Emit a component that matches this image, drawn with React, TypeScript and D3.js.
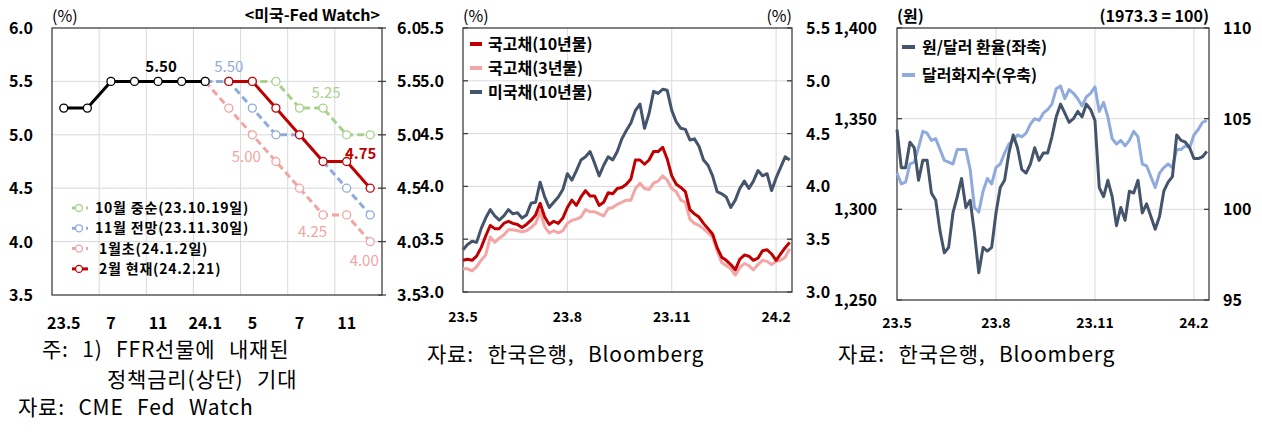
import React from 'react';
import * as d3 from 'd3';

const FONT = '"Noto Sans CJK KR", "Noto Sans", sans-serif';

// ---------- Panel 1: Fed Watch ----------
const fomcMonths = ["23.5", "23.6", "23.7", "23.9", "23.11", "23.12", "24.1", "24.3", "24.5", "24.6", "24.7", "24.9", "24.11", "24.12"];
const fomcTickLabels = ["23.5", "", "7", "", "11", "", "24.1", "", "5", "", "7", "", "11", ""];
const fedTicks = [3.5, 4.0, 4.5, 5.0, 5.5, 6.0];
const actualRate = [5.25, 5.25, 5.5, 5.5, 5.5, 5.5, 5.5, null, null, null, null, null, null, null];
const octExpect = [null, null, null, null, null, null, 5.5, 5.5, 5.5, 5.5, 5.25, 5.25, 5.0, 5.0];
const novExpect = [null, null, null, null, null, null, 5.5, 5.5, 5.25, 5.0, 5.0, 4.75, 4.5, 4.25];
const janExpect = [null, null, null, null, null, null, 5.5, 5.25, 5.0, 4.75, 4.5, 4.25, 4.25, 4.0];
const febExpect = [null, null, null, null, null, null, null, 5.5, 5.5, 5.25, 5.0, 4.75, 4.75, 4.5];
const fedLegend = ["10월 중순(23.10.19일)", "11월 전망(23.11.30일)", " 1월초(24.1.2일)", " 2월 현재(24.2.21)"];

// ---------- Panel 2: bond yields (every 4 days from 2023-05-01) ----------
const seriesStart = "2023-05-01";
const seriesEnd = "2024-02-15";
const stepDays = 4;
const kr10y = [3.30, 3.31, 3.30, 3.34, 3.42, 3.53, 3.63, 3.60, 3.60, 3.65, 3.67, 3.65, 3.64, 3.61, 3.64, 3.68, 3.73, 3.84, 3.71, 3.64, 3.67, 3.65, 3.70, 3.80, 3.87, 3.82, 3.90, 3.96, 3.91, 3.91, 3.82, 3.85, 3.94, 3.93, 3.98, 3.99, 4.02, 4.07, 4.25, 4.25, 4.21, 4.25, 4.33, 4.33, 4.37, 4.26, 4.10, 4.02, 3.99, 3.95, 3.78, 3.74, 3.71, 3.65, 3.60, 3.55, 3.42, 3.33, 3.30, 3.26, 3.21, 3.31, 3.35, 3.34, 3.30, 3.32, 3.39, 3.40, 3.36, 3.30, 3.36, 3.42, 3.47];
const kr3y = [3.22, 3.22, 3.20, 3.24, 3.30, 3.35, 3.52, 3.47, 3.51, 3.54, 3.59, 3.59, 3.58, 3.57, 3.58, 3.61, 3.65, 3.76, 3.62, 3.56, 3.58, 3.56, 3.58, 3.65, 3.68, 3.69, 3.71, 3.78, 3.76, 3.76, 3.74, 3.72, 3.79, 3.80, 3.83, 3.85, 3.87, 3.87, 3.98, 4.03, 3.98, 3.97, 4.03, 4.05, 4.10, 4.06, 3.98, 3.95, 3.87, 3.85, 3.69, 3.65, 3.63, 3.60, 3.56, 3.52, 3.39, 3.28, 3.25, 3.22, 3.16, 3.23, 3.27, 3.25, 3.21, 3.26, 3.30, 3.29, 3.26, 3.29, 3.30, 3.33, 3.41];
const us10y = [3.40, 3.45, 3.48, 3.47, 3.60, 3.70, 3.78, 3.72, 3.68, 3.72, 3.78, 3.74, 3.75, 3.70, 3.73, 3.84, 3.85, 4.04, 3.90, 3.80, 3.85, 3.90, 3.97, 4.12, 4.06, 4.15, 4.25, 4.28, 4.33, 4.22, 4.10, 4.20, 4.28, 4.25, 4.33, 4.45, 4.53, 4.60, 4.72, 4.78, 4.55, 4.69, 4.90, 4.88, 4.92, 4.91, 4.72, 4.61, 4.55, 4.54, 4.44, 4.45, 4.38, 4.25, 4.20, 4.10, 3.95, 3.93, 3.90, 3.80, 3.87, 3.98, 4.05, 3.98, 4.05, 4.15, 4.10, 4.12, 3.96, 4.08, 4.18, 4.28, 4.25];
const bondTicks = [3.0, 3.5, 4.0, 4.5, 5.0, 5.5];
const bondLegend = ["국고채(10년물)", "국고채(3년물)", "미국채(10년물)"];

// ---------- Panel 3: FX ----------
const krwUsd = [1344, 1323, 1323, 1337, 1334, 1316, 1327, 1327, 1309, 1305, 1288, 1276, 1279, 1298, 1307, 1317, 1301, 1305, 1287, 1265, 1279, 1277, 1279, 1298, 1312, 1316, 1331, 1341, 1334, 1322, 1320, 1325, 1334, 1327, 1331, 1331, 1340, 1351, 1358, 1353, 1348, 1350, 1354, 1351, 1358, 1355, 1349, 1312, 1307, 1316, 1307, 1291, 1301, 1294, 1310, 1309, 1316, 1298, 1303, 1296, 1289, 1296, 1310, 1315, 1318, 1341, 1338, 1337, 1334, 1328, 1328, 1329, 1332];
const dollarIndex = [102.0, 101.4, 101.5, 102.5, 102.6, 103.4, 104.3, 104.2, 103.8, 103.9, 103.3, 102.7, 102.6, 102.5, 103.3, 103.3, 103.3, 102.2, 100.1, 99.85, 101.0, 101.7, 101.4, 102.3, 102.5, 103.1, 103.6, 103.8, 104.1, 104.0, 104.2, 104.7, 105.0, 104.9, 105.3, 105.5, 105.8, 106.65, 106.8, 106.1, 106.6, 106.4, 106.1, 105.7, 106.2, 106.4, 106.75, 105.4, 105.9, 105.1, 103.9, 103.6, 103.8, 103.5, 103.8, 104.3, 104.0, 102.5, 102.4, 101.8, 101.2, 102.0, 102.3, 102.5, 102.3, 103.3, 103.3, 103.5, 103.4, 104.1, 104.4, 104.8, 104.9];
const krwTicks = [1250, 1300, 1350, 1400];
const dxyTicks = [95, 100, 105, 110];
const fxLegend = ["원/달러 환율(좌축)", "달러화지수(우축)"];

const timeTicks = [
  { date: "2023-05-01", label: "23.5" },
  { date: "2023-08-01", label: "23.8" },
  { date: "2023-11-01", label: "23.11" },
  { date: "2024-02-01", label: "24.2" },
];

const C = {
  black: "#000000",
  green: "#a9d18e",
  blue: "#8faadc",
  pink: "#f4a3a3",
  red: "#c00000",
  navy: "#44546a",
  lightBlue: "#8faadc",
  krPink: "#f4a6a6",
  grid: "#d9d9d9",
  frame: "#404040",
};

const parse = d3.timeParse("%Y-%m-%d");
const t0 = parse(seriesStart) as Date;
const dates = kr10y.map((_, i) => d3.timeDay.offset(t0, i * stepDays));

const NOTE = { fontSize: 21, wordSpacing: 8, letterSpacing: 0.8 } as const;

function FedPanel() {
  const L = 52, R = 382, T = 28, B = 295;
  const x = d3.scalePoint<string>().domain(fomcMonths).range([L, R]).padding(0.5);
  const y = d3.scaleLinear().domain([3.5, 6.0]).range([B, T]);
  const step = x.step();
  const line = d3.line<number | null>()
    .defined(d => d != null)
    .x((_, i) => x(fomcMonths[i]) as number)
    .y(d => y(d as number));
  const series = [
    { data: octExpect, color: C.green, dash: "7,4", w: 3 },
    { data: janExpect, color: C.pink, dash: "7,4", w: 3 },
    { data: novExpect, color: C.blue, dash: "7,4", w: 3 },
    { data: febExpect, color: C.red, dash: null, w: 3 },
    { data: actualRate, color: C.black, dash: null, w: 3 },
  ];
  const legendColors = [C.green, C.blue, C.pink, C.red];
  const px = (i: number) => x(fomcMonths[i]) as number;
  const legTop = 208, legStep = 20.3;
  return (
    <g fontFamily={FONT}>
      {fedTicks.slice(1, -1).map(v => (
        <line key={"hg" + v} x1={L} x2={R} y1={y(v)} y2={y(v)} stroke={C.grid} strokeWidth={1} />
      ))}
      {fomcMonths.map((m, i) => (i % 2 === 1 && i < fomcMonths.length - 1) ? (
        <line key={"vg" + i} x1={px(i) + step / 2} x2={px(i) + step / 2} y1={T} y2={B} stroke={C.grid} strokeWidth={1} />
      ) : null)}
      <rect x={L} y={T} width={R - L} height={B - T} fill="none" stroke={C.frame} strokeWidth={1.3} />
      {fedTicks.map(v => (
        <g key={"t" + v}>
          <line x1={R - 4} x2={R + 4} y1={y(v)} y2={y(v)} stroke={C.frame} strokeWidth={1.3} />
          <text x={33} y={y(v) + 6} textAnchor="end" fontSize={16} fontWeight={700}>{v.toFixed(1)}</text>
          <text x={397} y={y(v) + 6} textAnchor="start" fontSize={16} fontWeight={700}>{v.toFixed(1)}</text>
        </g>
      ))}
      {fomcTickLabels.map((lab, i) => lab ? (
        <text key={"xl" + i} x={px(i)} y={329} textAnchor="middle" fontSize={16} fontWeight={700}>{lab}</text>
      ) : null)}
      {series.map((s, k) => (
        <g key={"s" + k}>
          <path d={line(s.data) || ""} fill="none" stroke={s.color} strokeWidth={s.w}
            strokeDasharray={s.dash || undefined} strokeLinejoin="round" />
          {s.data.map((v, i) => v == null ? null : (
            <circle key={i} cx={px(i)} cy={y(v)} r={4} fill="#fff" stroke={s.color} strokeWidth={1.3} />
          ))}
        </g>
      ))}
      <text x={px(4) + 3} y={y(5.5) - 9} textAnchor="middle" fontSize={15} fontWeight={700} fill={C.black}>5.50</text>
      <text x={px(7)} y={y(5.5) - 9} textAnchor="middle" fontSize={15} fill={C.blue}>5.50</text>
      <text x={px(11) + 3} y={y(5.25) - 10} textAnchor="middle" fontSize={15} fill={C.green}>5.25</text>
      <text x={px(12) + 14} y={y(4.75) - 3} textAnchor="middle" fontSize={15} fontWeight={700} fill={C.red}>4.75</text>
      <text x={px(8) - 6} y={y(5.0) + 27} textAnchor="middle" fontSize={15} fill={C.pink}>5.00</text>
      <text x={px(10) + 13} y={y(4.25) + 22} textAnchor="middle" fontSize={15} fill={C.pink}>4.25</text>
      <text x={px(13) - 6} y={y(4.0) + 24} textAnchor="middle" fontSize={15} fill={C.pink}>4.00</text>
      <text x={L} y={22} fontSize={16}>(%)</text>
      <text x={R - 2} y={21} textAnchor="end" fontSize={16} fontWeight={700}>&lt;미국-Fed Watch&gt;</text>
      {fedLegend.map((lab, i) => {
        const cy = legTop + i * legStep;
        const col = legendColors[i];
        const solid = i === 3;
        return (
          <g key={"lg" + i}>
            <line x1={72} x2={88} y1={cy} y2={cy} stroke={col} strokeWidth={3} strokeDasharray={solid ? undefined : "4,3"} />
            <circle cx={79} cy={cy} r={3.5} fill="#fff" stroke={col} strokeWidth={1.3} />
            <text x={95} y={cy + 5} fontSize={14} fontWeight={700} letterSpacing={0.8} style={{ whiteSpace: "pre" }}>{lab}</text>
          </g>
        );
      })}
      <text x={42} y={357} {...NOTE}>주: 1) FFR선물에 내재된</text>
      <text x={107} y={387} {...NOTE}>정책금리(상단) 기대</text>
      <text x={18} y={415} {...NOTE}>자료: CME Fed Watch</text>
    </g>
  );
}

function BondPanel() {
  const L = 463, R = 792, T = 28, B = 292;
  const x = d3.scaleTime().domain([t0, parse(seriesEnd) as Date]).range([L, R]);
  const y = d3.scaleLinear().domain([3.0, 5.5]).range([B, T]);
  const mk = (arr: number[]) => d3.line<number>().x((_, i) => x(dates[i])).y(d => y(d))(arr) || "";
  const legendColors = [C.red, C.krPink, C.navy];
  return (
    <g fontFamily={FONT}>
      {bondTicks.slice(1, -1).map(v => (
        <line key={"hg" + v} x1={L} x2={R} y1={y(v)} y2={y(v)} stroke={C.grid} strokeWidth={1} />
      ))}
      {timeTicks.slice(1).map(t => (
        <line key={"vg" + t.label} x1={x(parse(t.date) as Date)} x2={x(parse(t.date) as Date)} y1={T} y2={B} stroke={C.grid} strokeWidth={1} />
      ))}
      <rect x={L} y={T} width={R - L} height={B - T} fill="none" stroke={C.frame} strokeWidth={1.3} />
      {bondTicks.map(v => (
        <g key={"t" + v}>
          <line x1={L} x2={L + 5} y1={y(v)} y2={y(v)} stroke={C.frame} strokeWidth={1.3} />
          <line x1={R - 5} x2={R} y1={y(v)} y2={y(v)} stroke={C.frame} strokeWidth={1.3} />
          <text x={444} y={y(v) + 6} textAnchor="end" fontSize={16} fontWeight={700}>{v.toFixed(1)}</text>
          <text x={806} y={y(v) + 6} textAnchor="start" fontSize={16} fontWeight={700}>{v.toFixed(1)}</text>
        </g>
      ))}
      {timeTicks.map(t => (
        <text key={"xl" + t.label} x={x(parse(t.date) as Date)} y={322} textAnchor="middle" fontSize={14} fontWeight={700}>{t.label}</text>
      ))}
      <path d={mk(kr3y)} fill="none" stroke={C.krPink} strokeWidth={3} strokeLinejoin="round" />
      <path d={mk(kr10y)} fill="none" stroke={C.red} strokeWidth={3} strokeLinejoin="round" />
      <path d={mk(us10y)} fill="none" stroke={C.navy} strokeWidth={3} strokeLinejoin="round" />
      <text x={L} y={22} fontSize={16}>(%)</text>
      <text x={R} y={22} textAnchor="end" fontSize={16}>(%)</text>
      {bondLegend.map((lab, i) => {
        const cy = 44 + i * 24;
        return (
          <g key={"lg" + i}>
            <line x1={470} x2={482} y1={cy} y2={cy} stroke={legendColors[i]} strokeWidth={4} />
            <text x={488} y={cy + 6} fontSize={16} fontWeight={700}>{lab}</text>
          </g>
        );
      })}
      <text x={427} y={362} {...NOTE}>자료: 한국은행, Bloomberg</text>
    </g>
  );
}

function FxPanel() {
  const L = 897, R = 1209, T = 28, B = 300;
  const x = d3.scaleTime().domain([t0, parse(seriesEnd) as Date]).range([L, R]);
  const yL = d3.scaleLinear().domain([1250, 1400]).range([B, T]);
  const yR = d3.scaleLinear().domain([95, 110]).range([B, T]);
  const krwLine = d3.line<number>().x((_, i) => x(dates[i])).y(d => yL(d))(krwUsd) || "";
  const dxyLine = d3.line<number>().x((_, i) => x(dates[i])).y(d => yR(d))(dollarIndex) || "";
  const legendColors = [C.navy, C.lightBlue];
  const fmt = d3.format(",");
  return (
    <g fontFamily={FONT}>
      {krwTicks.slice(1, -1).map(v => (
        <line key={"hg" + v} x1={L} x2={R} y1={yL(v)} y2={yL(v)} stroke={C.grid} strokeWidth={1} />
      ))}
      {timeTicks.slice(1).map(t => (
        <line key={"vg" + t.label} x1={x(parse(t.date) as Date)} x2={x(parse(t.date) as Date)} y1={T} y2={B} stroke={C.grid} strokeWidth={1} />
      ))}
      <rect x={L} y={T} width={R - L} height={B - T} fill="none" stroke={C.frame} strokeWidth={1.3} />
      {krwTicks.map((v, i) => (
        <g key={"t" + v}>
          <line x1={L} x2={L + 5} y1={yL(v)} y2={yL(v)} stroke={C.frame} strokeWidth={1.3} />
          <line x1={R - 5} x2={R} y1={yL(v)} y2={yL(v)} stroke={C.frame} strokeWidth={1.3} />
          <text x={877} y={yL(v) + 6} textAnchor="end" fontSize={16} fontWeight={700}>{fmt(v)}</text>
          <text x={1223} y={yR(dxyTicks[i]) + 6} textAnchor="start" fontSize={16} fontWeight={700}>{dxyTicks[i]}</text>
        </g>
      ))}
      {timeTicks.map(t => (
        <text key={"xl" + t.label} x={x(parse(t.date) as Date)} y={328} textAnchor="middle" fontSize={14} fontWeight={700}>{t.label}</text>
      ))}
      <path d={dxyLine} fill="none" stroke={C.lightBlue} strokeWidth={3} strokeLinejoin="round" />
      <path d={krwLine} fill="none" stroke={C.navy} strokeWidth={3} strokeLinejoin="round" />
      <text x={L} y={22} fontSize={16} fontWeight={700}>(원)</text>
      <text x={R} y={22} textAnchor="end" fontSize={16} fontWeight={700}>(1973.3 = 100)</text>
      {fxLegend.map((lab, i) => {
        const cy = 47 + i * 28;
        return (
          <g key={"lg" + i}>
            <line x1={902} x2={915} y1={cy} y2={cy} stroke={legendColors[i]} strokeWidth={4} />
            <text x={922} y={cy + 6} fontSize={16} fontWeight={700}>{lab}</text>
          </g>
        );
      })}
      <text x={838} y={362} {...NOTE}>자료: 한국은행, Bloomberg</text>
    </g>
  );
}

export default function App() {
  return (
    <svg width={1262} height={432} viewBox="0 0 1262 432"
      style={{ position: "absolute", left: 0, top: 0, background: "#fff" }}>
      <rect x={0} y={0} width={1262} height={432} fill="#fff" />
      <FedPanel />
      <BondPanel />
      <FxPanel />
    </svg>
  );
}
